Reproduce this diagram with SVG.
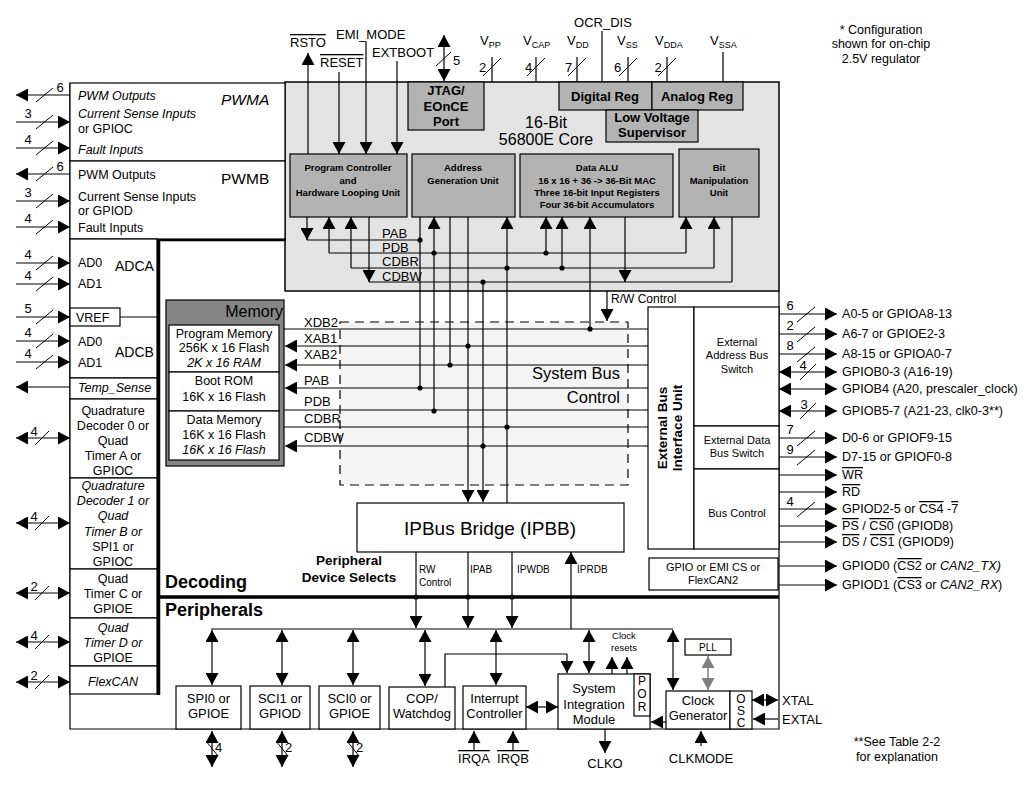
<svg xmlns="http://www.w3.org/2000/svg" width="1027" height="789" viewBox="0 0 1027 789">
<defs>
<marker id="ah" viewBox="0 0 12 13" markerUnits="userSpaceOnUse" markerWidth="12" markerHeight="13" refX="12" refY="6.5" orient="auto-start-reverse"><path d="M0,0L12,6.5L0,13z" fill="#000"/></marker>
<marker id="ahg" viewBox="0 0 12 13" markerUnits="userSpaceOnUse" markerWidth="12" markerHeight="13" refX="12" refY="6.5" orient="auto-start-reverse"><path d="M0,0L12,6.5L0,13z" fill="#808080"/></marker>
</defs>
<style>
text{font-family:"Liberation Sans",Arial,sans-serif;fill:#000;font-size:12.5px}
.m{text-anchor:middle}
.e{text-anchor:end}
.b{font-weight:bold}
.i{font-style:italic}
.ov{text-decoration:overline}
.f9{font-size:9.5px}
.f10{font-size:10px}
.f11{font-size:11px}
.f12{font-size:12px}
.fr{font-size:12.6px}
.f13{font-size:13px}
.f14{font-size:14px}
.f16{font-size:16px}
.f18{font-size:18px}
.ln{stroke:#000;stroke-width:1.2;fill:none}
.a{stroke:#000;stroke-width:1.2;fill:none;marker-end:url(#ah)}
.d{stroke:#000;stroke-width:1.2;fill:none;marker-start:url(#ah);marker-end:url(#ah)}
.dg{stroke:#808080;stroke-width:1.5;fill:none;marker-start:url(#ahg);marker-end:url(#ahg)}
.sl{stroke:#000;stroke-width:1;fill:none}
.box{fill:#fff;stroke:#000;stroke-width:1.2}
.gb{fill:#b3b3b3;stroke:#000;stroke-width:1.2}
.thick{stroke:#000;stroke-width:3.5;fill:none}
.dot{fill:#000}
</style>
<rect width="1027" height="789" fill="#fff"/>

<g id="core">
<rect x="285" y="82" width="494" height="209" fill="#e3e3e3" stroke="#000" stroke-width="1.5"/>
<text class="m f16" x="546" y="128">16-Bit</text>
<text class="m f16" x="546" y="145">56800E Core</text>
</g>

<g id="frame">
<path class="ln" d="M70,83V729H779V291"/>
<path class="thick" d="M157,239.5H286M158.5,238V695M157,597H779"/>
</g>

<g id="pwma">
<rect class="box" x="70" y="83" width="215" height="78"/>
<text class="i" x="78" y="100">PWM Outputs</text>
<text class="i" x="78" y="118">Current Sense Inputs</text>
<text x="78" y="133">or GPIOC</text>
<text class="i" x="78" y="154">Fault Inputs</text>
<text class="i" x="221" y="105" style="font-size:15.5px">PWMA</text>
</g>
<g id="pwmb">
<rect class="box" x="70" y="161" width="215" height="78"/>
<text x="78" y="179">PWM Outputs</text>
<text x="78" y="201">Current Sense Inputs</text>
<text x="78" y="215">or GPIOD</text>
<text x="78" y="232">Fault Inputs</text>
<text x="221" y="184" style="font-size:15.5px">PWMB</text>
</g>
<g id="adc">
<rect class="box" x="70" y="239" width="87" height="139"/>
<text x="78" y="267">AD0</text>
<text x="78" y="288">AD1</text>
<text class="f14" x="115" y="271">ADCA</text>
<rect class="box" x="70" y="308" width="50" height="18"/>
<text x="76" y="322">VREF</text>
<text x="78" y="346">AD0</text>
<text x="78" y="367">AD1</text>
<text class="f14" x="115" y="357">ADCB</text>
</g>
<g id="tempsense">
<rect class="box" x="70" y="378" width="87" height="21"/>
<text class="i" x="78" y="392">Temp_Sense</text>
</g>
<g id="qd0">
<rect class="box" x="70" y="399" width="87" height="79"/>
<text class="m" x="113" y="415">Quadrature</text>
<text class="m" x="113" y="430">Decoder 0 or</text>
<text class="m" x="113" y="445">Quad</text>
<text class="m" x="113" y="460">Timer A or</text>
<text class="m" x="113" y="475">GPIOC</text>
</g>
<g id="qd1">
<rect class="box" x="70" y="478" width="87" height="91"/>
<text class="m i" x="113" y="490">Quadrature</text>
<text class="m i" x="113" y="505">Decoder 1 or</text>
<text class="m i" x="113" y="520">Quad</text>
<text class="m i" x="113" y="536">Timer B or</text>
<text class="m" x="113" y="551">SPI1 or</text>
<text class="m" x="113" y="566">GPIOC</text>
</g>
<g id="qtc">
<rect class="box" x="70" y="569" width="87" height="49"/>
<text class="m" x="113" y="583">Quad</text>
<text class="m" x="113" y="598">Timer C or</text>
<text class="m" x="113" y="613">GPIOE</text>
</g>
<g id="qtd">
<rect class="box" x="70" y="618" width="87" height="48"/>
<text class="m i" x="113" y="632">Quad</text>
<text class="m i" x="113" y="647">Timer D or</text>
<text class="m" x="113" y="662">GPIOE</text>
</g>
<g id="flexcan">
<rect class="box" x="70" y="666" width="87" height="28"/>
<text class="m i" x="113" y="686">FlexCAN</text>
</g>

<g id="jtag">
<rect class="gb" x="408" y="82" width="76" height="48"/>
<text class="m b f13" x="446" y="95">JTAG/</text>
<text class="m b f13" x="446" y="111">EOnCE</text>
<text class="m b f13" x="446" y="126">Port</text>
</g>
<g id="digreg">
<rect class="gb" x="559" y="82" width="93" height="28"/>
<text class="m b f13" x="605" y="101">Digital Reg</text>
</g>
<g id="anareg">
<rect class="gb" x="652" y="82" width="91" height="28"/>
<text class="m b f13" x="697" y="101">Analog Reg</text>
</g>
<g id="lvs">
<rect class="gb" x="606" y="110" width="92" height="32"/>
<text class="m b f13" x="652" y="122">Low Voltage</text>
<text class="m b f13" x="652" y="137">Supervisor</text>
</g>
<g id="pc">
<rect class="gb" x="290" y="154" width="117" height="63"/>
<text class="m b f9" x="348" y="171">Program Controller</text>
<text class="m b f9" x="348" y="184">and</text>
<text class="m b f9" x="348" y="196">Hardware Looping Unit</text>
</g>
<g id="agu">
<rect class="gb" x="412" y="154" width="103" height="63"/>
<text class="m b f9" x="463" y="171">Address</text>
<text class="m b f9" x="463" y="184">Generation Unit</text>
</g>
<g id="dalu">
<rect class="gb" x="520" y="154" width="153" height="63"/>
<text class="m b f9" x="597" y="171">Data ALU</text>
<text class="m b f9" x="597" y="184">16 x 16 + 36 -&gt; 36-Bit MAC</text>
<text class="m b f9" x="597" y="196">Three 16-bit Input Registers</text>
<text class="m b f9" x="597" y="208">Four 36-bit Accumulators</text>
</g>
<g id="bmu">
<rect class="gb" x="679" y="149" width="80" height="68"/>
<text class="m b f9" x="719" y="171">Bit</text>
<text class="m b f9" x="719" y="184">Manipulation</text>
<text class="m b f9" x="719" y="196">Unit</text>
</g>

<g id="memory">
<rect x="166" y="300" width="118" height="166" fill="#858585" stroke="#000" stroke-width="1.2"/>
<text class="e f16" x="283" y="317">Memory</text>
<rect class="box" x="169" y="325" width="110" height="47"/>
<text class="m" x="224" y="338">Program Memory</text>
<text class="m" x="224" y="352">256K x 16 Flash</text>
<text class="m i" x="224" y="367">2K x 16 RAM</text>
<rect class="box" x="169" y="372" width="110" height="39"/>
<text class="m" x="224" y="385">Boot ROM</text>
<text class="m" x="224" y="401">16K x 16 Flash</text>
<rect class="box" x="169" y="411" width="110" height="49"/>
<text class="m" x="224" y="424">Data Memory</text>
<text class="m" x="224" y="439">16K x 16 Flash</text>
<text class="m i" x="224" y="454">16K x 16 Flash</text>
</g>

<g id="sysbus">
<rect x="340" y="322" width="288" height="163" fill="#f4f4f4" stroke="#000" stroke-width="1.2" stroke-dasharray="9,6"/>
<text class="e" x="620" y="379" style="font-size:16.5px">System Bus</text>
<text class="e" x="620" y="403" style="font-size:16.5px">Control</text>
</g>

<g id="ebiu">
<rect class="box" x="648" y="307" width="46" height="242"/>
<text class="m b" transform="translate(667,428) rotate(-90)" style="font-size:13.5px">External Bus</text>
<text class="m b" transform="translate(682,428) rotate(-90)" style="font-size:13.5px">Interface Unit</text>
</g>
<g id="extaddr">
<rect class="box" x="694" y="307" width="85" height="119"/>
<text class="m f11" x="737" y="346">External</text>
<text class="m f11" x="737" y="359">Address Bus</text>
<text class="m f11" x="737" y="373">Switch</text>
</g>
<g id="extdata">
<rect class="box" x="694" y="426" width="85" height="43"/>
<text class="m f11" x="737" y="444">External Data</text>
<text class="m f11" x="737" y="457">Bus Switch</text>
</g>
<g id="busctrl">
<rect class="box" x="694" y="469" width="85" height="80"/>
<text class="m f11" x="737" y="517">Bus Control</text>
</g>
<g id="gpioemi">
<rect class="box" x="649" y="558" width="129" height="32"/>
<text class="m f11" x="713" y="571">GPIO or EMI CS or</text>
<text class="m f11" x="713" y="584">FlexCAN2</text>
</g>

<g id="ipbb">
<rect class="box" x="357" y="503" width="267" height="49"/>
<text class="m" x="490" y="535" style="font-size:19px">IPBus Bridge (IPBB)</text>
</g>
<g id="pds">
<text class="m b" x="349" y="565" style="font-size:13.5px">Peripheral</text>
<text class="m b" x="349" y="582" style="font-size:13.5px">Device Selects</text>
</g>
<g id="sections">
<text class="b f18" x="165" y="588">Decoding</text>
<text class="b f18" x="165" y="616">Peripherals</text>
</g>

<g id="spi0"><rect class="box" x="176" y="686" width="65" height="43"/><text class="m f13" x="208.5" y="703">SPI0 or</text><text class="m f13" x="208.5" y="718">GPIOE</text></g>
<g id="sci1"><rect class="box" x="250" y="686" width="60" height="43"/><text class="m f13" x="280" y="703">SCI1 or</text><text class="m f13" x="280" y="718">GPIOD</text></g>
<g id="sci0"><rect class="box" x="319" y="686" width="61" height="43"/><text class="m f13" x="349.5" y="703">SCI0 or</text><text class="m f13" x="349.5" y="718">GPIOE</text></g>
<g id="cop"><rect class="box" x="389" y="687" width="66" height="42"/><text class="m f13" x="422" y="703">COP/</text><text class="m f13" x="422" y="718">Watchdog</text></g>
<g id="intc"><rect class="box" x="463" y="686" width="63" height="43"/><text class="m f13" x="494.5" y="703">Interrupt</text><text class="m f13" x="494.5" y="718">Controller</text></g>
<g id="sim"><rect class="box" x="558" y="674" width="92" height="55"/><text class="m f13" x="594" y="693">System</text><text class="m f13" x="594" y="709">Integration</text><text class="m f13" x="594" y="724">Module</text>
<rect class="box" x="634" y="674" width="16" height="42"/><text class="m f12" x="642" y="685">P</text><text class="m f12" x="642" y="698">O</text><text class="m f12" x="642" y="711">R</text></g>
<g id="clkgen"><rect class="box" x="666" y="691" width="64" height="38"/><text class="m f13" x="698" y="705">Clock</text><text class="m f13" x="698" y="720">Generator</text>
<rect class="box" x="730" y="691" width="22" height="38"/><text class="m f12" x="741" y="703">O</text><text class="m f12" x="741" y="715">S</text><text class="m f12" x="741" y="727">C</text></g>
<g id="pll"><rect class="box" x="685" y="639" width="46" height="16"/><text class="m f10" x="708" y="651">PLL</text></g>

<g id="connectors">
<line class="a" x1="308" y1="154" x2="308" y2="53"/>
<line class="a" x1="339" y1="72" x2="339" y2="154"/>
<line class="a" x1="366" y1="42" x2="366" y2="154"/>
<line class="a" x1="397" y1="61" x2="397" y2="154"/>
<line class="d" x1="444" y1="35" x2="444" y2="81"/>
<line class="sl" x1="436" y1="66" x2="451" y2="52"/>
<path class="ln" d="M492,57V82M536,57V82M577,57V82M628,57V82M667,57V82M723,52V82M602,31V82"/>
<path class="sl" d="M483,76L501,58M527,76L545,58M568,76L586,58M619,76L637,58M658,76L676,58"/>
<line class="a" x1="307" y1="217" x2="307" y2="240"/>
<line class="a" x1="329" y1="253" x2="329" y2="217"/>
<line class="a" x1="351" y1="268" x2="351" y2="217"/>
<line class="a" x1="369" y1="217" x2="369" y2="282"/>
<path class="ln" d="M307,240H420M329,253H686M351,268H714M369,282H732"/>
<path class="ln" d="M420,217V388M450,217V365M732,217V282M483,282V446"/>
<line class="a" x1="434" y1="411" x2="434" y2="217"/>
<line class="a" x1="468" y1="217" x2="468" y2="502"/>
<line class="a" x1="483" y1="446" x2="483" y2="502"/>
<line class="a" x1="507" y1="503" x2="507" y2="217"/>
<line class="a" x1="546" y1="253" x2="546" y2="217"/>
<line class="a" x1="562" y1="268" x2="562" y2="217"/>
<line class="a" x1="590" y1="329" x2="590" y2="217"/>
<line class="a" x1="625" y1="217" x2="625" y2="282"/>
<line class="a" x1="686" y1="253" x2="686" y2="217"/>
<line class="a" x1="714" y1="268" x2="714" y2="217"/>
<g class="dot">
<circle cx="420" cy="240" r="2.6"/><circle cx="434" cy="253" r="2.6"/><circle cx="546" cy="253" r="2.6"/>
<circle cx="507" cy="268" r="2.6"/><circle cx="562" cy="268" r="2.6"/><circle cx="483" cy="282" r="2.6"/>
<circle cx="590" cy="329" r="2.6"/><circle cx="468" cy="346" r="2.6"/><circle cx="450" cy="365" r="2.6"/>
<circle cx="420" cy="388" r="2.6"/><circle cx="434" cy="411" r="2.6"/><circle cx="507" cy="427" r="2.6"/>
<circle cx="483" cy="446" r="2.6"/>
<circle cx="416" cy="597" r="2.6"/><circle cx="468" cy="597" r="2.6"/><circle cx="512" cy="597" r="2.6"/>
</g>
<line class="a" x1="607" y1="291" x2="607" y2="321"/>
<path class="ln" d="M284,329H648M284,410H648M284,427H648"/>
<line class="a" x1="648" y1="346" x2="285" y2="346"/>
<line class="a" x1="648" y1="365" x2="285" y2="365"/>
<line class="a" x1="648" y1="388" x2="285" y2="388"/>
<line class="a" x1="648" y1="446" x2="285" y2="446"/>
<line class="a" x1="416" y1="552" x2="416" y2="628"/>
<line class="a" x1="468" y1="552" x2="468" y2="628"/>
<line class="a" x1="512" y1="552" x2="512" y2="628"/>
<line class="a" x1="571" y1="629" x2="571" y2="552"/>
<path class="ln" d="M211,629H673"/>
<line class="d" x1="212" y1="630" x2="212" y2="685"/>
<line class="d" x1="282" y1="630" x2="282" y2="685"/>
<line class="d" x1="353" y1="630" x2="353" y2="685"/>
<line class="d" x1="425" y1="630" x2="425" y2="686"/>
<line class="d" x1="496" y1="630" x2="496" y2="685"/>
<line class="d" x1="589" y1="630" x2="589" y2="673"/>
<line class="d" x1="673" y1="630" x2="673" y2="690"/>
<path class="ln" d="M445,687V654H567"/>
<line class="a" x1="567" y1="654" x2="567" y2="673"/>
<line class="a" x1="612" y1="674" x2="612" y2="657"/>
<line class="a" x1="627" y1="674" x2="627" y2="657"/>
<line class="d" x1="526" y1="707" x2="558" y2="707"/>
<line class="a" x1="666" y1="722" x2="651" y2="722"/>
<line class="dg" x1="708" y1="656" x2="708" y2="690"/>
<line class="d" x1="752" y1="700" x2="778" y2="700"/>
<line class="a" x1="778" y1="719" x2="753" y2="719"/>
<line class="d" x1="212" y1="731" x2="212" y2="767"/>
<line class="d" x1="282" y1="731" x2="282" y2="767"/>
<line class="d" x1="353" y1="731" x2="353" y2="767"/>
<path class="sl" d="M206,741L218,756M276,741L288,756M347,741L359,756"/>
<line class="a" x1="474" y1="750" x2="474" y2="731"/>
<line class="a" x1="513" y1="750" x2="513" y2="731"/>
<line class="a" x1="605" y1="729" x2="605" y2="753"/>
<line class="a" x1="701" y1="746" x2="701" y2="731"/>
<line class="a" x1="70" y1="95" x2="16" y2="95"/>
<line class="a" x1="16" y1="122" x2="70" y2="122"/>
<line class="a" x1="16" y1="148" x2="70" y2="148"/>
<line class="a" x1="70" y1="174" x2="16" y2="174"/>
<line class="a" x1="16" y1="201" x2="70" y2="201"/>
<line class="a" x1="16" y1="227" x2="70" y2="227"/>
<line class="a" x1="16" y1="263" x2="70" y2="263"/>
<line class="a" x1="16" y1="284" x2="70" y2="284"/>
<line class="a" x1="16" y1="317" x2="70" y2="317"/>
<line class="ln" x1="120" y1="317" x2="157" y2="317"/>
<line class="a" x1="16" y1="341" x2="70" y2="341"/>
<line class="a" x1="16" y1="362" x2="70" y2="362"/>
<line class="a" x1="70" y1="387" x2="16" y2="387"/>
<line class="d" x1="16" y1="438" x2="70" y2="438"/>
<line class="d" x1="16" y1="523" x2="70" y2="523"/>
<line class="d" x1="16" y1="593" x2="70" y2="593"/>
<line class="d" x1="16" y1="642" x2="70" y2="642"/>
<line class="d" x1="16" y1="682" x2="70" y2="682"/>
<path class="sl" d="M36,102L53,88M36,129L53,115M36,155L53,141M36,181L53,167M36,208L53,194M36,234L53,220M36,270L53,256M36,291L53,277M36,324L53,310M36,348L53,334M36,369L53,355M35,445L49,431M35,530L49,516M35,600L49,586M35,649L49,635M35,689L49,675"/>
<line class="a" x1="779" y1="314" x2="837" y2="314"/>
<line class="a" x1="779" y1="334" x2="837" y2="334"/>
<line class="a" x1="779" y1="354" x2="837" y2="354"/>
<line class="d" x1="779" y1="372" x2="837" y2="372"/>
<line class="d" x1="779" y1="389" x2="837" y2="389"/>
<line class="d" x1="779" y1="411" x2="837" y2="411"/>
<line class="a" x1="779" y1="438" x2="837" y2="438"/>
<line class="a" x1="779" y1="457" x2="837" y2="457"/>
<line class="a" x1="779" y1="475" x2="837" y2="475"/>
<line class="a" x1="779" y1="492" x2="837" y2="492"/>
<line class="a" x1="779" y1="509" x2="837" y2="509"/>
<line class="a" x1="779" y1="526" x2="837" y2="526"/>
<line class="a" x1="779" y1="542" x2="837" y2="542"/>
<line class="a" x1="779" y1="566" x2="837" y2="566"/>
<line class="a" x1="779" y1="585" x2="837" y2="585"/>
<path class="sl" d="M797,322L815,307M797,342L815,327M797,362L815,347M800,380L816,364M800,419L816,403M797,446L815,431M797,465L815,450M797,517L815,502"/>
</g>

<g id="pins">
<text class="ov f13" x="290" y="47">RSTO</text>
<text class="ov f13" x="320" y="67">RESET</text>
<text class="f13" x="336" y="39">EMI_MODE</text>
<text class="f13" x="372" y="57">EXTBOOT</text>
<text class="f13" x="453" y="65">5</text>
<text class="f13 m" x="603" y="27">OCR_DIS</text>
<text class="f13" x="480" y="45">V<tspan style="font-size:9px" dy="3">PP</tspan></text>
<text class="f13" x="523" y="45">V<tspan style="font-size:9px" dy="3">CAP</tspan></text>
<text class="f13" x="567" y="45">V<tspan style="font-size:9px" dy="3">DD</tspan></text>
<text class="f13" x="617" y="45">V<tspan style="font-size:9px" dy="3">SS</tspan></text>
<text class="f13" x="655" y="45">V<tspan style="font-size:9px" dy="3">DDA</tspan></text>
<text class="f13" x="710" y="45">V<tspan style="font-size:9px" dy="3">SSA</tspan></text>
<text class="f13 m" x="482.5" y="72">2</text>
<text class="f13 m" x="528.5" y="72">4</text>
<text class="f13 m" x="568.5" y="72">7</text>
<text class="f13 m" x="617.5" y="72">6</text>
<text class="f13 m" x="658" y="72">2</text>
<text class="f13" x="382" y="238">PAB</text>
<text class="f13" x="382" y="252">PDB</text>
<text class="f13" x="382" y="266">CDBR</text>
<text class="f13" x="382" y="281">CDBW</text>
<text class="f12" x="611" y="303">R/W Control</text>
<text class="f13" x="304" y="327">XDB2</text>
<text class="f13" x="304" y="343">XAB1</text>
<text class="f13" x="304" y="359">XAB2</text>
<text class="f13" x="304" y="385">PAB</text>
<text class="f13" x="304" y="406">PDB</text>
<text class="f13" x="304" y="423">CDBR</text>
<text class="f13" x="304" y="442">CDBW</text>
<text class="f10" x="419" y="573">RW</text>
<text class="f10" x="419" y="586">Control</text>
<text class="f10" x="470" y="573">IPAB</text>
<text class="f10" x="517" y="573">IPWDB</text>
<text class="f10" x="577" y="573">IPRDB</text>
<text class="f9 m" x="624" y="639">Clock</text>
<text class="f9 m" x="624" y="651">resets</text>
<text class="f13" x="782" y="705">XTAL</text>
<text class="f13" x="782" y="724">EXTAL</text>
<text class="f13" x="215" y="752">4</text>
<text class="f13" x="285" y="752">2</text>
<text class="f13" x="356" y="752">2</text>
<text class="f13 m ov" x="474" y="763">IRQA</text>
<text class="f13 m ov" x="513" y="763">IRQB</text>
<text class="f13 m" x="605" y="768">CLKO</text>
<text class="f13 m" x="701" y="763">CLKMODE</text>
<text class="f13 m" x="60" y="92">6</text>
<text class="f13 m" x="28" y="118">3</text>
<text class="f13 m" x="28" y="144">4</text>
<text class="f13 m" x="60" y="171">6</text>
<text class="f13 m" x="28" y="197">3</text>
<text class="f13 m" x="28" y="223">4</text>
<text class="f13 m" x="28" y="259">4</text>
<text class="f13 m" x="28" y="280">4</text>
<text class="f13 m" x="28" y="313">5</text>
<text class="f13 m" x="28" y="337">4</text>
<text class="f13 m" x="28" y="358">4</text>
<text class="f13 m" x="34" y="436">4</text>
<text class="f13 m" x="34" y="521">4</text>
<text class="f13 m" x="34" y="591">2</text>
<text class="f13 m" x="34" y="640">4</text>
<text class="f13 m" x="34" y="680">2</text>
<text class="f13 m" x="790" y="310">6</text>
<text class="f13 m" x="790" y="330">2</text>
<text class="f13 m" x="790" y="350">8</text>
<text class="f13 m" x="803" y="370">4</text>
<text class="f13 m" x="804" y="409">3</text>
<text class="f13 m" x="790" y="434">7</text>
<text class="f13 m" x="790" y="454">9</text>
<text class="f13 m" x="790" y="506">4</text>
<text class="fr" x="842" y="318">A0-5 or GPIOA8-13</text>
<text class="fr" x="842" y="338">A6-7 or GPIOE2-3</text>
<text class="fr" x="842" y="358">A8-15 or GPIOA0-7</text>
<text class="fr" x="842" y="376">GPIOB0-3 (A16-19)</text>
<text class="fr" x="842" y="393">GPIOB4 (A20, prescaler_clock)</text>
<text class="fr" x="842" y="415">GPIOB5-7 (A21-23, clk0-3**)</text>
<text class="fr" x="842" y="442">D0-6 or GPIOF9-15</text>
<text class="fr" x="842" y="461">D7-15 or GPIOF0-8</text>
<text class="fr ov" x="842" y="479">WR</text>
<text class="fr ov" x="842" y="496">RD</text>
<text class="fr" x="842" y="513">GPIOD2-5 or <tspan class="ov">CS4</tspan> -<tspan class="ov">7</tspan></text>
<text class="fr" x="842" y="530"><tspan class="ov">PS</tspan> / <tspan class="ov">CS0</tspan> (GPIOD8)</text>
<text class="fr" x="842" y="546"><tspan class="ov">DS</tspan> / <tspan class="ov">CS1</tspan> (GPIOD9)</text>
<text class="fr" x="842" y="570">GPIOD0 (<tspan class="ov">CS2</tspan> or <tspan class="i">CAN2_TX)</tspan></text>
<text class="fr" x="842" y="589">GPIOD1 (<tspan class="ov">CS3</tspan> or <tspan class="i">CAN2_RX</tspan>)</text>
</g>

<g id="notes">
<text class="m" x="881" y="34">* Configuration</text>
<text class="m" x="881" y="48">shown for on-chip</text>
<text class="m" x="881" y="63">2.5V regulator</text>
<text class="m" x="897" y="746">**See Table 2-2</text>
<text class="m" x="897" y="761">for explanation</text>
</g>
</svg>
